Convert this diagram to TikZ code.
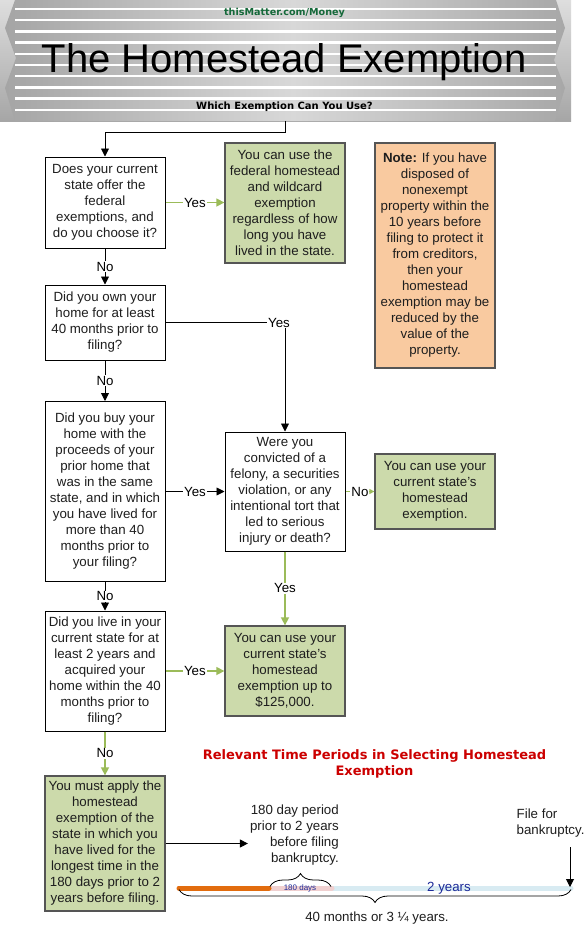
\documentclass[tikz,border=0pt]{standalone}
\usepackage{fontspec}
\setmainfont{Liberation Sans}
\newfontfamily\dejavu{DejaVu Sans}
\usetikzlibrary{arrows.meta,decorations.pathreplacing,calc}
\definecolor{boxgreen}{HTML}{CCDAAB}
\definecolor{boxedge}{HTML}{555555}
\definecolor{linegreen}{HTML}{9BBB59}
\definecolor{peach}{HTML}{F9CAA0}
\definecolor{textc}{HTML}{1E1E1E}
\definecolor{sitegreen}{HTML}{15693A}
\definecolor{titlered}{HTML}{CC0000}
\definecolor{navy}{HTML}{1C2A99}
\definecolor{tlorange}{HTML}{E26C0E}
\definecolor{tlpink}{HTML}{F0D0D0}
\definecolor{tlblue}{HTML}{D8EBF2}
\definecolor{capA}{HTML}{DEDEDE}
\definecolor{capB}{HTML}{A6A6A6}
\definecolor{bandA}{HTML}{A4A4A4}
\definecolor{bandB}{HTML}{D8D8D8}
\begin{document}
\begin{tikzpicture}[x=1pt,y=-1pt,
  txt/.style={font=\fontsize{13.3}{16}\selectfont, text=textc},
  qbox/.style={txt, rectangle, draw=black, line width=1pt, fill=white,
    minimum width=120pt, align=center, inner sep=1pt},
  gbox/.style={qbox, fill=boxgreen, draw=boxedge, line width=1.3pt},
  pbox/.style={qbox, fill=peach, draw=boxedge, line width=1.3pt},
  arr/.style={draw=black, line width=0.9pt, -{Triangle[length=8pt,width=8pt]}},
  garr/.style={draw=linegreen, line width=1.5pt, -{Triangle[length=8pt,width=8pt]}},
  lbl/.style={txt, text=black, fill=white, inner sep=1pt},
  hdr/.style={font=\dejavu\bfseries\fontsize{10}{12}\selectfont}
]
\useasboundingbox (0,0) rectangle (586,927);
\fill[white] (0,0) rectangle (586,927);

% ---------- banner ----------
\shade[top color=capA, bottom color=capB] (0,0) rectangle (571,121);
\begin{scope}
  \clip (15,0) -- (556,0) -- (565,28) -- (554,60) -- (565,88) -- (555,121)
        -- (15,121) -- (5,88) -- (16,58) -- (5,28) -- cycle;
  \shade[left color=bandA, right color=bandA, middle color=bandB] (0,0) rectangle (586,121);
  \foreach \yy in {9,20.2,31.4,42.6,53.8,65,76.2,87.4,98.6,109.8}
    \fill[white] (15,\yy-1.2) rectangle (556,\yy+1.2);
\end{scope}
\node[hdr, font=\dejavu\bfseries\fontsize{9.6}{12}\selectfont, text=sitegreen] (site) at (284.5,13.3) {thisMatter.com/Money};
\node[anchor=base, font=\fontsize{40}{44}\selectfont, text=black, inner sep=0pt] (title) at (284,72) {The Homestead Exemption};
\node[hdr, text=black] (sub) at (284.5,107) {Which Exemption Can You Use?};

% ---------- boxes ----------
\node[qbox, minimum height=91pt] (q1) at (105,202.5)
  {Does your current\\state offer the\\federal\\exemptions, and\\do you choose it?};
\node[gbox, minimum height=120pt] (fed) at (285,203)
  {You can use the\\federal homestead\\and wildcard\\exemption\\regardless of how\\long you have\\lived in the state.};
\node[pbox, minimum height=225pt] (note) at (435,255.5)
  {\textbf{Note:} If you have\\disposed of\\nonexempt\\property within the\\10 years before\\filing to protect it\\from creditors,\\then your\\homestead\\exemption may be\\reduced by the\\value of the\\property.};
\node[qbox, minimum height=75pt] (q2) at (105,322.5)
  {Did you own your\\home for at least\\40 months prior to\\filing?};
\node[qbox, minimum height=180pt] (q3) at (105,491.5)
  {Did you buy your\\home with the\\proceeds of your\\prior home that\\was in the same\\state, and in which\\you have lived for\\more than 40\\months prior to\\your filing?};
\node[qbox, minimum height=119pt] (were) at (285,491.5)
  {Were you\\convicted of a\\felony, a securities\\violation, or any\\intentional tort that\\led to serious\\injury or death?};
\node[gbox, minimum height=75pt] (cur) at (435,491.5)
  {You can use your\\current state’s\\homestead\\exemption.};
\node[qbox, minimum height=120pt] (q4) at (105,671)
  {Did you live in your\\current state for at\\least 2 years and\\acquired your\\home within the 40\\months prior to\\filing?};
\node[gbox, minimum height=90pt] (k125) at (285,671)
  {You can use your\\current state’s\\homestead\\exemption up to\\\$125,000.};
\node[gbox, minimum height=135pt] (must) at (105,843.5)
  {You must apply the\\homestead\\exemption of the\\state in which you\\have lived for the\\longest time in the\\180 days prior to 2\\years before filing.};

% ---------- connectors ----------
\coordinate (bstart) at (285,121);
\coordinate (bturn) at (105,132.7);
\draw[arr] (bstart) |- (bturn) -- (q1.north);

\draw[garr] (q1.east) -- node[lbl] {Yes} (q1.east -| fed.west);
\draw[arr] (q1.south) -- node[lbl] {No} (q2.north);

\coordinate (c2) at (285,322.5);
\draw[arr] (q2.east) -- (c2) -- (were.north);
\node[lbl] (y2lbl) at (279,322.5) {Yes};

\draw[arr] (q2.south) -- node[lbl] {No} (q3.north);
\draw[arr] (q3.east) -- node[lbl] {Yes} (q3.east -| were.west);
\draw[draw=linegreen, line width=1.5pt, -{Triangle[length=5pt,width=5pt]}]
  (were.east) -- node[lbl] {No} (were.east -| cur.west);
\draw[garr] (were.south) -- node[lbl] {Yes} (k125.north);
\draw[arr] (q3.south) -- node[lbl] {No} (q4.north);
\draw[garr] (q4.east) -- node[lbl] {Yes} (q4.east -| k125.west);
\draw[garr] (q4.south) -- node[lbl] {No} (must.north);

% ---------- timeline ----------
\node[font=\dejavu\bfseries\fontsize{13}{16.3}\selectfont, text=titlered, align=center] (rtitle) at (374.5,764)
  {Relevant Time Periods in Selecting Homestead\\Exemption};
\node[txt, align=right, anchor=east, inner sep=2pt] (period) at (341,835.3)
  {180 day period\\prior to 2 years\\before filing\\bankruptcy.};
\draw[arr] (must.east) -- (must.east -| period.west);
\node[txt, align=left, anchor=west, inner sep=0pt] (file) at (516.5,823.5)
  {File for\\bankruptcy.};

\coordinate (t0) at (179,888);
\coordinate (t1) at (269,888);
\coordinate (t2) at (332,888);
\coordinate (t3) at (571,888);
\draw[line width=5pt, line cap=round, tlblue] (t2) -- (t3);
\draw[line width=5pt, line cap=round, tlpink] (t1) -- (t2);
\draw[line width=5pt, line cap=round, tlorange] (t0) -- (t1);
\node[font=\fontsize{8}{9.6}\selectfont, text=navy, inner sep=0pt] (d180) at (300,888) {180 days};
\node[font=\fontsize{13.3}{16}\selectfont, text=navy, inner sep=0pt] (yrs) at (449,888) {2 years};

\coordinate (fa) at (570,847);
\coordinate (fb) at (570,887);
\draw[arr] (fa) -- (fb);

\draw[decorate, decoration={brace, amplitude=13pt}, line width=0.8pt] (270,886.5) -- (331,886.5);
\draw[decorate, decoration={brace, amplitude=13pt}, line width=0.8pt] (571,889.5) -- (179,889.5);
\node[txt] (forty) at (377,918) {40 months or 3 ¼ years.};
\end{tikzpicture}
\end{document}
